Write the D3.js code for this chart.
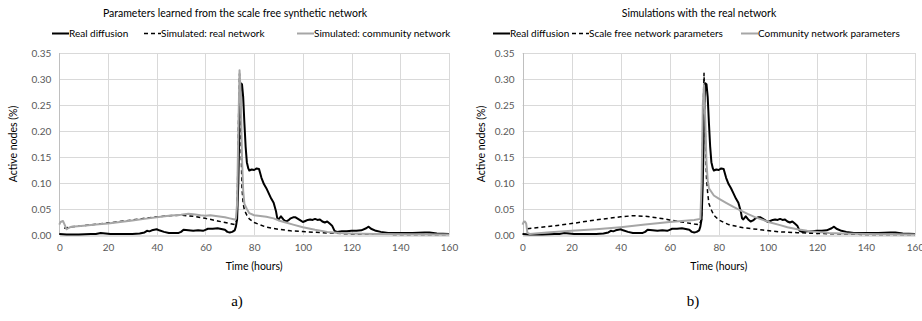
<!DOCTYPE html>
<html><head><meta charset="utf-8">
<script src="https://cdn.jsdelivr.net/npm/d3@7"></script>
<style>body{margin:0;background:#fff}svg{display:block}</style>
</head><body>
<svg id="c" width="922" height="321"></svg>
<script>
// ---- data (time in hours, active nodes in %) ----
const xTicks = [0, 20, 40, 60, 80, 100, 120, 140, 160];
const yTicks = [0, 0.05, 0.10, 0.15, 0.20, 0.25, 0.30, 0.35];

const realDiffusion = [[0,0.002],[3,0.001],[8,0.001],[13,0.002],[15,0.002],[17,0.004],[19,0.003],[21,0.002],[25,0.002],[30,0.002],[33,0.003],[35,0.005],[36,0.008],[37,0.007],[38,0.009],[40,0.011],[41,0.009],[43,0.006],[45,0.004],[47,0.004],[49,0.004],[50,0.006],[51,0.010],[53,0.009],[55,0.008],[57,0.009],[59,0.008],[60,0.010],[61,0.012],[63,0.012],[65,0.013],[67,0.011],[68,0.010],[69,0.006],[70,0.005],[71,0.006],[72,0.009],[72.5,0.016],[73,0.030],[73.5,0.100],[74,0.220],[74.5,0.292],[75,0.290],[75.5,0.265],[76,0.215],[76.5,0.170],[77,0.140],[77.6,0.128],[78,0.124],[79,0.126],[80,0.125],[81,0.128],[82,0.127],[83,0.110],[84,0.098],[85,0.090],[86,0.080],[87,0.070],[88,0.062],[89,0.045],[89.5,0.032],[90,0.030],[91,0.036],[92,0.030],[93,0.026],[94,0.028],[95,0.032],[96,0.034],[97,0.034],[98,0.031],[99,0.028],[100,0.025],[101,0.027],[102,0.029],[103,0.030],[104,0.029],[105,0.031],[106,0.029],[107,0.030],[108,0.026],[109,0.024],[110,0.026],[111,0.022],[112,0.018],[113,0.008],[114,0.006],[116,0.007],[118,0.007],[120,0.008],[122,0.008],[124,0.009],[126,0.013],[127,0.016],[128,0.012],[130,0.008],[132,0.006],[135,0.004],[140,0.004],[145,0.004],[150,0.005],[152,0.005],[155,0.003],[160,0.002]];

// panel a
const simRealNetwork = [[2,0.013],[5,0.016],[10,0.018],[20,0.023],[30,0.029],[40,0.035],[45,0.037],[50,0.038],[55,0.036],[60,0.032],[65,0.027],[70,0.022],[72,0.020],[73,0.030],[73.5,0.200],[74,0.310],[74.5,0.200],[75,0.090],[75.5,0.060],[76,0.048],[77,0.038],[78,0.031],[80,0.024],[85,0.015],[90,0.011],[95,0.008],[100,0.0065],[110,0.004],[120,0.002],[140,0.001],[160,0.001]];
const simCommunityNetwork = [[0,0.020],[0.5,0.025],[1,0.026],[1.5,0.027],[2,0.022],[3,0.011],[4,0.014],[5,0.016],[10,0.018],[15,0.020],[20,0.022],[25,0.025],[30,0.028],[35,0.031],[40,0.034],[45,0.037],[50,0.039],[53,0.041],[55,0.040],[58,0.038],[60,0.037],[62,0.038],[65,0.036],[68,0.034],[70,0.032],[72,0.030],[72.5,0.031],[73,0.060],[73.5,0.200],[74,0.317],[74.5,0.270],[75,0.150],[75.5,0.085],[76,0.060],[77,0.050],[78,0.042],[80,0.038],[85,0.035],[88,0.032],[90,0.028],[93,0.024],[96,0.020],[100,0.015],[105,0.010],[110,0.006],[115,0.004],[120,0.003],[130,0.002],[160,0.001]];

// panel b
const scaleFreeParams = [[2,0.012],[10,0.016],[20,0.022],[30,0.029],[40,0.035],[45,0.037],[50,0.036],[55,0.033],[60,0.029],[65,0.025],[70,0.021],[72,0.020],[73,0.030],[73.5,0.200],[74,0.311],[74.5,0.200],[75,0.110],[75.5,0.080],[76,0.060],[77,0.048],[78,0.038],[80,0.029],[84,0.020],[90,0.014],[98,0.0096],[105,0.006],[112,0.0045],[120,0.003],[140,0.001],[160,0.001]];
const communityParams = [[0,0.020],[0.5,0.025],[1,0.026],[1.5,0.022],[2,0.004],[3,0.002],[10,0.005],[20,0.008],[30,0.011],[40,0.015],[50,0.020],[60,0.025],[70,0.029],[72.5,0.031],[73,0.100],[73.5,0.250],[74,0.288],[74.5,0.220],[75,0.140],[75.5,0.105],[76,0.090],[78,0.076],[80,0.070],[83,0.062],[86,0.054],[89,0.047],[92,0.040],[95,0.034],[98,0.029],[101,0.024],[105,0.019],[108,0.015],[112,0.011],[116,0.008],[120,0.006],[125,0.004],[130,0.003],[140,0.002],[160,0.001]];

const titles = ["Parameters learned from the scale free synthetic network", "Simulations with the real network"];
const legendA = ["Real diffusion", "Simulated: real network", "Simulated: community network"];
const legendB = ["Real diffusion", "Scale free network parameters", "Community network parameters"];
const captions = ["a)", "b)"];
const xTitle = "Time (hours)";
const yTitle = "Active nodes (%)";

// ---- drawing ----
const svg = d3.select("#c");
const FONT = "Lato, 'Open Sans', sans-serif";
const styles = [
  {stroke:"#000", width:2, dash:null},
  {stroke:"#000", width:1.5, dash:"4,3"},
  {stroke:"#a6a6a6", width:2, dash:null}
];

function panel(cfg) {
  const g = svg.append("g");
  const x = d3.scaleLinear().domain([0,160]).range([cfg.x0, cfg.x1]);
  const y = d3.scaleLinear().domain([0,0.35]).range([235, 53]);

  // grid
  g.append("g").selectAll("line").data(yTicks.slice(1)).join("line")
    .attr("x1", cfg.x0).attr("x2", cfg.x1)
    .attr("y1", d=>Math.round(y(d))+0.5).attr("y2", d=>Math.round(y(d))+0.5)
    .attr("stroke", "#d9d9d9").attr("stroke-width", 1);
  g.append("g").selectAll("line").data(xTicks).join("line")
    .attr("y1", y(0.35)).attr("y2", y(0))
    .attr("x1", d=>Math.round(x(d))+0.5).attr("x2", d=>Math.round(x(d))+0.5)
    .attr("stroke", d=> d===0 ? "#bfbfbf" : "#d9d9d9").attr("stroke-width", 1);

  // axes
  const xa = g.append("g").attr("transform", `translate(0,${Math.round(y(0))+0.5})`)
    .call(d3.axisBottom(x).tickValues(xTicks).tickSize(0).tickPadding(8).tickFormat(d3.format("d")));
  xa.select(".domain").attr("stroke", "#bfbfbf");
  xa.selectAll("text").attr("fill", "#595959").style("font-family", FONT).style("font-size", "10px");

  const ya = g.append("g").attr("transform", `translate(${cfg.x0},0)`)
    .call(d3.axisLeft(y).tickValues(yTicks).tickSize(0).tickPadding(8).tickFormat(d3.format(".2f")));
  ya.select(".domain").remove();
  ya.selectAll("text").attr("fill", "#595959").style("font-family", FONT).style("font-size", "10px");

  // series
  const line = d3.line().x(d=>x(d[0])).y(d=>y(d[1]));
  cfg.series.forEach((s,i) => {
    const st = styles[s.style];
    g.append("path").datum(s.data).attr("d", line)
      .attr("fill","none").attr("stroke", st.stroke).attr("stroke-width", st.width)
      .attr("stroke-dasharray", st.dash).attr("stroke-linejoin","round");
  });
  // redraw real diffusion? keep order as in legend

  // titles
  g.append("text").attr("x", cfg.titleX).attr("y", 17).attr("text-anchor","middle")
    .style("font-family", FONT).style("font-size","10.5px").attr("fill","#000").text(cfg.title);
  g.append("text").attr("x", (cfg.x0+cfg.x1)/2).attr("y", 270).attr("text-anchor","middle")
    .style("font-family", FONT).style("font-size","10.5px").attr("fill","#000").text(xTitle);
  g.append("text").attr("transform", `translate(${cfg.yTitleX},144) rotate(-90)`).attr("text-anchor","middle")
    .style("font-family", FONT).style("font-size","10.5px").attr("fill","#000").text(yTitle);

  // legend
  cfg.legend.forEach((lab,i) => {
    const st = styles[i];
    const lx = cfg.legendX[i];
    g.append("line").attr("x1", lx).attr("x2", lx+17).attr("y1", 33.5).attr("y2", 33.5)
      .attr("stroke", st.stroke).attr("stroke-width", st.width).attr("stroke-dasharray", st.dash);
    g.append("text").attr("x", lx+17).attr("y", 37).style("font-family", FONT).style("font-size","10px")
      .attr("fill","#000").text(lab);
  });

  // caption
  g.append("text").attr("x", cfg.captionX).attr("y", 306).attr("text-anchor","middle")
    .style("font-family","'Liberation Serif', 'Times New Roman', serif").style("font-size","15px")
    .attr("fill","#000").text(cfg.caption);
}

panel({x0:59.3, x1:449, title:titles[0], titleX:235, yTitleX:17, legend:legendA, legendX:[52,144,297],
  caption:captions[0], captionX:237,
  series:[{data:realDiffusion, style:0},{data:simRealNetwork, style:1},{data:simCommunityNetwork, style:2}]});
panel({x0:522.5, x1:915, title:titles[1], titleX:699, yTitleX:485, legend:legendB, legendX:[493,572,741],
  caption:captions[1], captionX:693,
  series:[{data:realDiffusion, style:0},{data:scaleFreeParams, style:1},{data:communityParams, style:2}]});
</script>
</body></html>
